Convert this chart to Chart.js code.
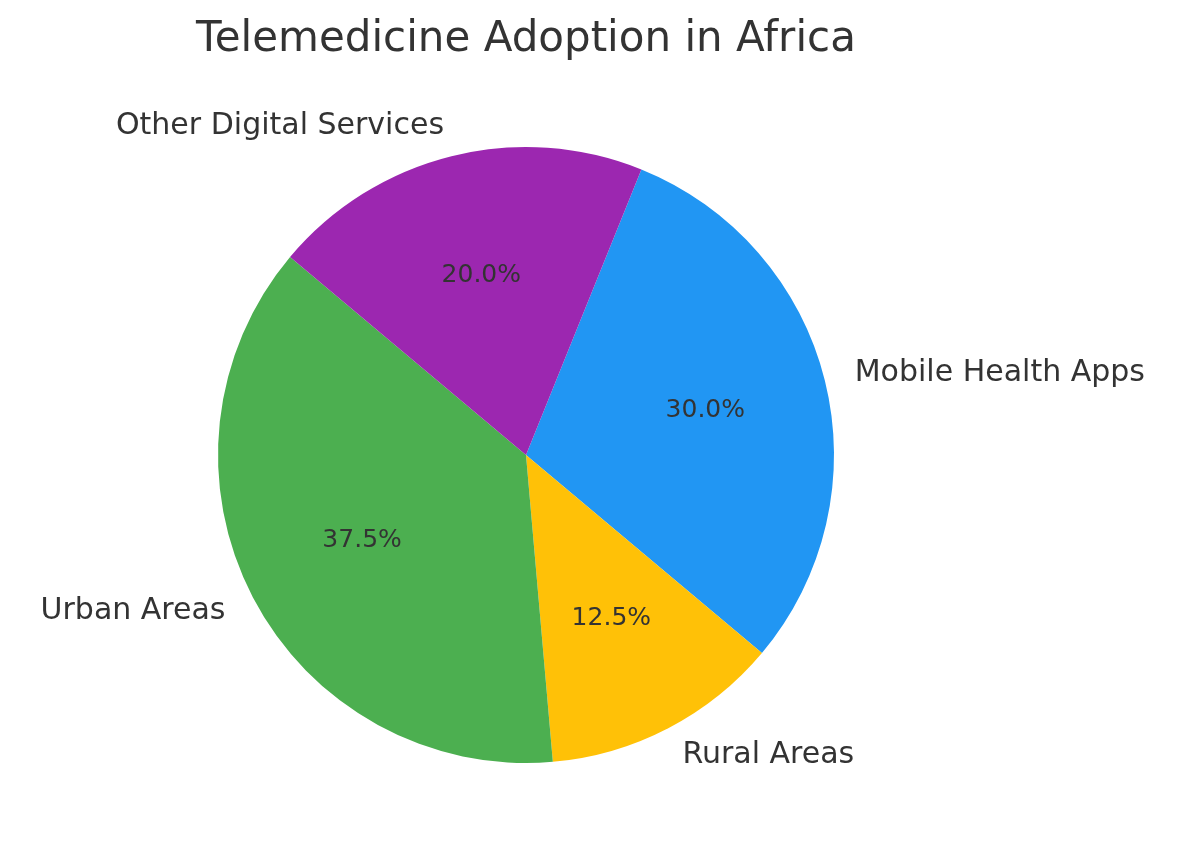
<!DOCTYPE html>
<html><head><meta charset="utf-8">
<script src="https://cdn.jsdelivr.net/npm/chart.js@4"></script>
<style>html,body{margin:0;padding:0;background:#fff}#w{width:1197px;height:860px}</style>
</head><body><div id="w"><canvas id="c"></canvas></div>
<script>
const title = "Telemedicine Adoption in Africa";
const categories = ["Mobile Health Apps", "Rural Areas", "Urban Areas", "Other Digital Services"];
const values = [30, 12.5, 37.5, 20];
const colors = ["#2196F3", "#FFC107", "#4CAF50", "#9C27B0"];

const labelPlugin = {
  id: 'pieLabels',
  afterDatasetsDraw(chart) {
    const ctx = chart.ctx;
    const meta = chart.getDatasetMeta(0);
    const total = values.reduce((a, b) => a + b, 0);
    ctx.save();
    ctx.fillStyle = '#333333';
    ctx.textBaseline = 'middle';
    meta.data.forEach((arc, i) => {
      const p = arc.getProps(['x', 'y', 'startAngle', 'endAngle', 'outerRadius'], true);
      const mid = (p.startAngle + p.endAngle) / 2;
      const c = Math.cos(mid), s = Math.sin(mid);
      ctx.font = '25px "DejaVu Sans"';
      ctx.textAlign = 'center';
      ctx.fillText((values[i] / total * 100).toFixed(1) + '%', p.x + c * p.outerRadius * 0.6, p.y + s * p.outerRadius * 0.6);
      ctx.font = '30px "DejaVu Sans"';
      ctx.textAlign = c >= 0 ? 'left' : 'right';
      ctx.fillText(categories[i], p.x + c * p.outerRadius * 1.1, p.y + s * p.outerRadius * 1.1);
    });
    ctx.font = '42px "DejaVu Sans"';
    ctx.textAlign = 'center';
    ctx.fillText(title, 526, 40);
    ctx.restore();
  }
};

new Chart(document.getElementById('c'), {
  type: 'pie',
  data: { labels: categories, datasets: [{ data: values, backgroundColor: colors, borderWidth: 0 }] },
  options: {
    responsive: true, maintainAspectRatio: false, animation: false,
    rotation: 22,
    layout: { padding: { top: 147, bottom: 97, left: 0, right: 145 } },
    plugins: { legend: { display: false }, tooltip: { enabled: false } }
  },
  plugins: [labelPlugin]
});
</script></body></html>
